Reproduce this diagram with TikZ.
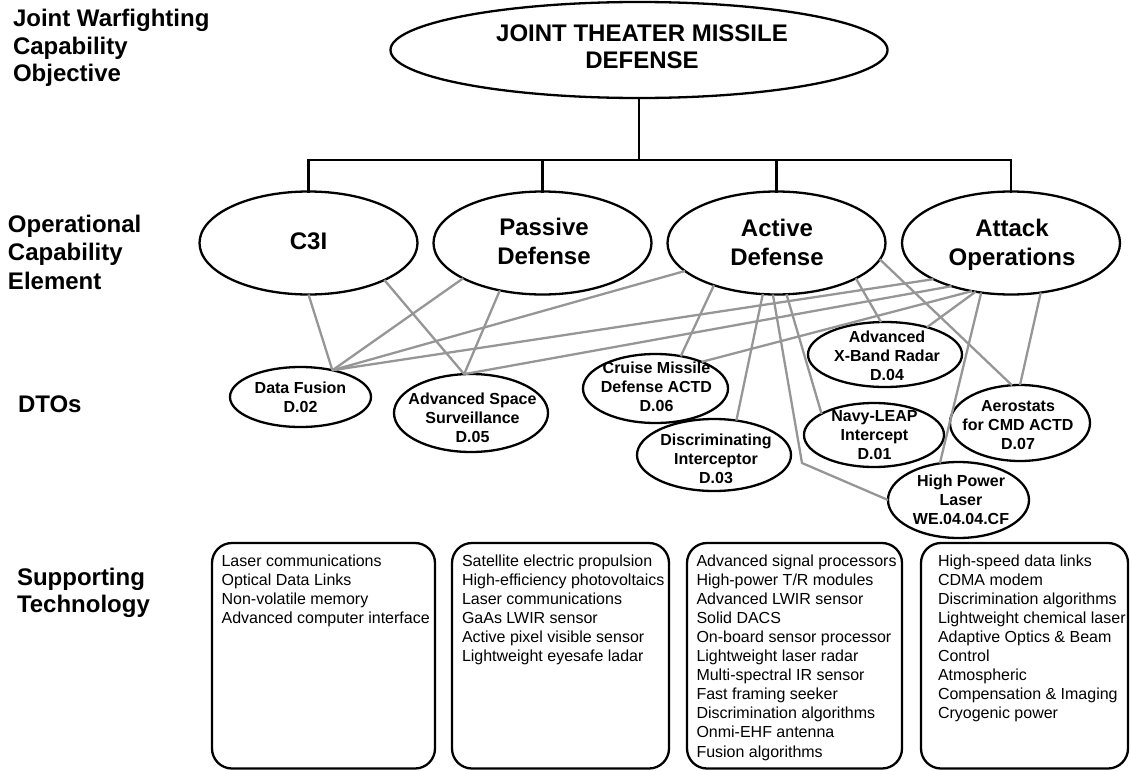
\documentclass[tikz,border=0pt]{standalone}
\usepackage{fontspec}
\setmainfont{Liberation Sans}
\usetikzlibrary{shapes.geometric}

\definecolor{linkgray}{RGB}{150,150,150}

% centred and top-aligned multi-line stacks
\newcommand{\cstack}[1]{\begin{tabular}{@{}c@{}}#1\end{tabular}}
\newcommand{\lstack}[1]{\begin{tabular}[t]{@{}l@{}}#1\end{tabular}}

\begin{document}
\begin{tikzpicture}[
  x=1pt, y=-1pt,
  every node/.style={inner sep=0pt, outer sep=0pt},
  heading/.style={anchor=base west, font=\bfseries\fontsize{24}{27.5}\selectfont},
  ovalnode/.style={draw=black, line width=2.3pt, ellipse},
  toptext/.style={font=\bfseries\fontsize{24}{27}\selectfont},
  opstext/.style={font=\bfseries\fontsize{24}{29}\selectfont},
  dtotext/.style={font=\bfseries\fontsize{16}{18.8}\selectfont},
  techbox/.style={draw=black, line width=2.3pt, rounded corners=20pt, anchor=north west},
  techtext/.style={anchor=base west, font=\fontsize{16}{19.1}\selectfont},
  tree/.style={draw=black, line width=2.3pt, line cap=rect},
  link/.style={draw=linkgray, line width=2.3pt}
]
\useasboundingbox (0,0) rectangle (1130,771);

% ---- level headings ----
\node[heading] (hjwco) at (13,27) {\lstack{Joint Warfighting\\Capability\\Objective}};
\node[heading, font=\bfseries\fontsize{24}{28.5}\selectfont] (hoce) at (8,232) {\lstack{Operational\\Capability\\Element}};
\node[heading] (hdto) at (18,412.5) {DTOs};
\node[heading] (hsup) at (17,585) {\lstack{Supporting\\Technology}};

% ---- objective ----
\node[ovalnode, minimum width=497, minimum height=96] (jtmd) at (639,50) {};
\node[toptext] (jtmdt) at (642,49.7) {\cstack{JOINT THEATER MISSILE\\DEFENSE}};

% ---- operational capability elements ----
\node[ovalnode, minimum width=218, minimum height=103] (c3i) at (308.5,243) {};
\node[ovalnode, minimum width=218, minimum height=103] (pd)  at (542.5,243) {};
\node[ovalnode, minimum width=218, minimum height=103] (ad)  at (776.5,243) {};
\node[ovalnode, minimum width=218, minimum height=103] (ao)  at (1011,243) {};
\node[opstext] (c3it) at (308.5,244) {\cstack{C3I}};
\node[opstext] (pdt)  at (544,244.3) {\cstack{Passive\\Defense}};
\node[opstext] (adt)  at (777,244.8) {\cstack{Active\\Defense}};
\node[opstext] (aot)  at (1012,244.8) {\cstack{Attack\\Operations}};

% ---- tree from objective to elements ----
\coordinate (busL) at (c3i.north |- 0,160);
\coordinate (busR) at (ao.north |- 0,160);
\draw[tree] (busL) -- (busR);
\draw[tree] (jtmd.south) -- (jtmd.south |- busL);
\foreach \n in {c3i,pd,ad,ao} \draw[tree] (\n.north) -- (\n.north |- busL);

% ---- DTOs ----
\node[ovalnode, minimum width=141, minimum height=60] (df)  at (300.5,397) {};
\node[ovalnode, minimum width=154, minimum height=78] (ass) at (471,413) {};
\node[ovalnode, minimum width=145, minimum height=69] (cmd) at (655.5,388.5) {};
\node[ovalnode, minimum width=154, minimum height=72] (di)  at (714,455) {};
\node[ovalnode, minimum width=154, minimum height=65] (xb)  at (885,354.5) {};
\node[ovalnode, minimum width=140, minimum height=64] (nl)  at (874,435) {};
\node[ovalnode, minimum width=140, minimum height=76] (aer) at (1020,423) {};
\node[ovalnode, minimum width=141, minimum height=76] (hpl) at (958.5,500) {};

\node[dtotext] (dft)  at (300.5,399) {\cstack{Data Fusion\\D.02}};
\node[dtotext] (asst) at (472.5,420) {\cstack{Advanced Space\\Surveillance\\D.05}};
\node[dtotext] (cmdt) at (656.5,389) {\cstack{Cruise Missile\\Defense ACTD\\D.06}};
\node[dtotext] (dit)  at (716,460.5) {\cstack{Discriminating\\Interceptor\\D.03}};
\node[dtotext] (xbt)  at (887,357.5) {\cstack{Advanced\\X-Band Radar\\D.04}};
\node[dtotext] (nlt)  at (874.5,436.5) {\cstack{Navy-LEAP\\Intercept\\D.01}};
\node[dtotext] (aert) at (1018,427) {\cstack{Aerostats\\for CMD ACTD\\D.07}};
\node[dtotext] (hplt) at (961,501.5) {\cstack{High Power\\Laser\\WE.04.04.CF}};

% ---- element to DTO links ----
\coordinate (hplbend) at (802,463);
\draw[link] (c3i.south) -- (df.40);
\draw[link] (c3i.-26)   -- (ass.100);
\draw[link] (pd.-156)   -- (df.40);
\draw[link] (pd.-132)   -- (ass.100);
\draw[link] (ad.-163)   -- (df.40);
\draw[link] (ao.-155)   -- (df.40);
\draw[link] (ao.-144)   -- (ass.100);
\draw[link] (ad.-146)   -- (cmd.52);
\draw[link] (ao.-129)   -- (cmd.30);
\draw[link] (ad.-105)   -- (di.57);
\draw[link] (ad.-94)    -- (hplbend) -- (hpl.west);
\draw[link] (ad.-79)    -- (nl.158);
\draw[link] (ad.-24)    -- (xb.97);
\draw[link] (ao.-126)   -- (xb.33);
\draw[link] (ad.-9)     -- (aer.102);
\draw[link] (ao.-121)   -- (hpl.117);
\draw[link] (ao.-59)    -- (aer.90);

% ---- supporting technology ----
\node[techbox, minimum width=223, minimum height=225.5] (tb1) at (212,543) {};
\node[techbox, minimum width=217, minimum height=225.5] (tb2) at (452,543) {};
\node[techbox, minimum width=215, minimum height=225.5] (tb3) at (687,543) {};
\node[techbox, minimum width=207, minimum height=225.5] (tb4) at (921,543) {};

\node[techtext] (tt1) at (221.6,566) {\lstack{Laser communications\\Optical Data Links\\Non-volatile memory\\Advanced computer interface}};
\node[techtext] (tt2) at (462,566) {\lstack{Satellite electric propulsion\\High-efficiency photovoltaics\\Laser communications\\GaAs LWIR sensor\\Active pixel visible sensor\\Lightweight eyesafe ladar}};
\node[techtext] (tt3) at (696.5,566) {\lstack{Advanced signal processors\\High-power T/R modules\\Advanced LWIR sensor\\Solid DACS\\On-board sensor processor\\Lightweight laser radar\\Multi-spectral IR sensor\\Fast framing seeker\\Discrimination algorithms\\Onmi-EHF antenna\\Fusion algorithms}};
\node[techtext] (tt4) at (938,566) {\lstack{High-speed data links\\CDMA modem\\Discrimination algorithms\\Lightweight chemical laser\\Adaptive Optics \& Beam\\Control\\Atmospheric\\Compensation \& Imaging\\Cryogenic power}};
\end{tikzpicture}
\end{document}
